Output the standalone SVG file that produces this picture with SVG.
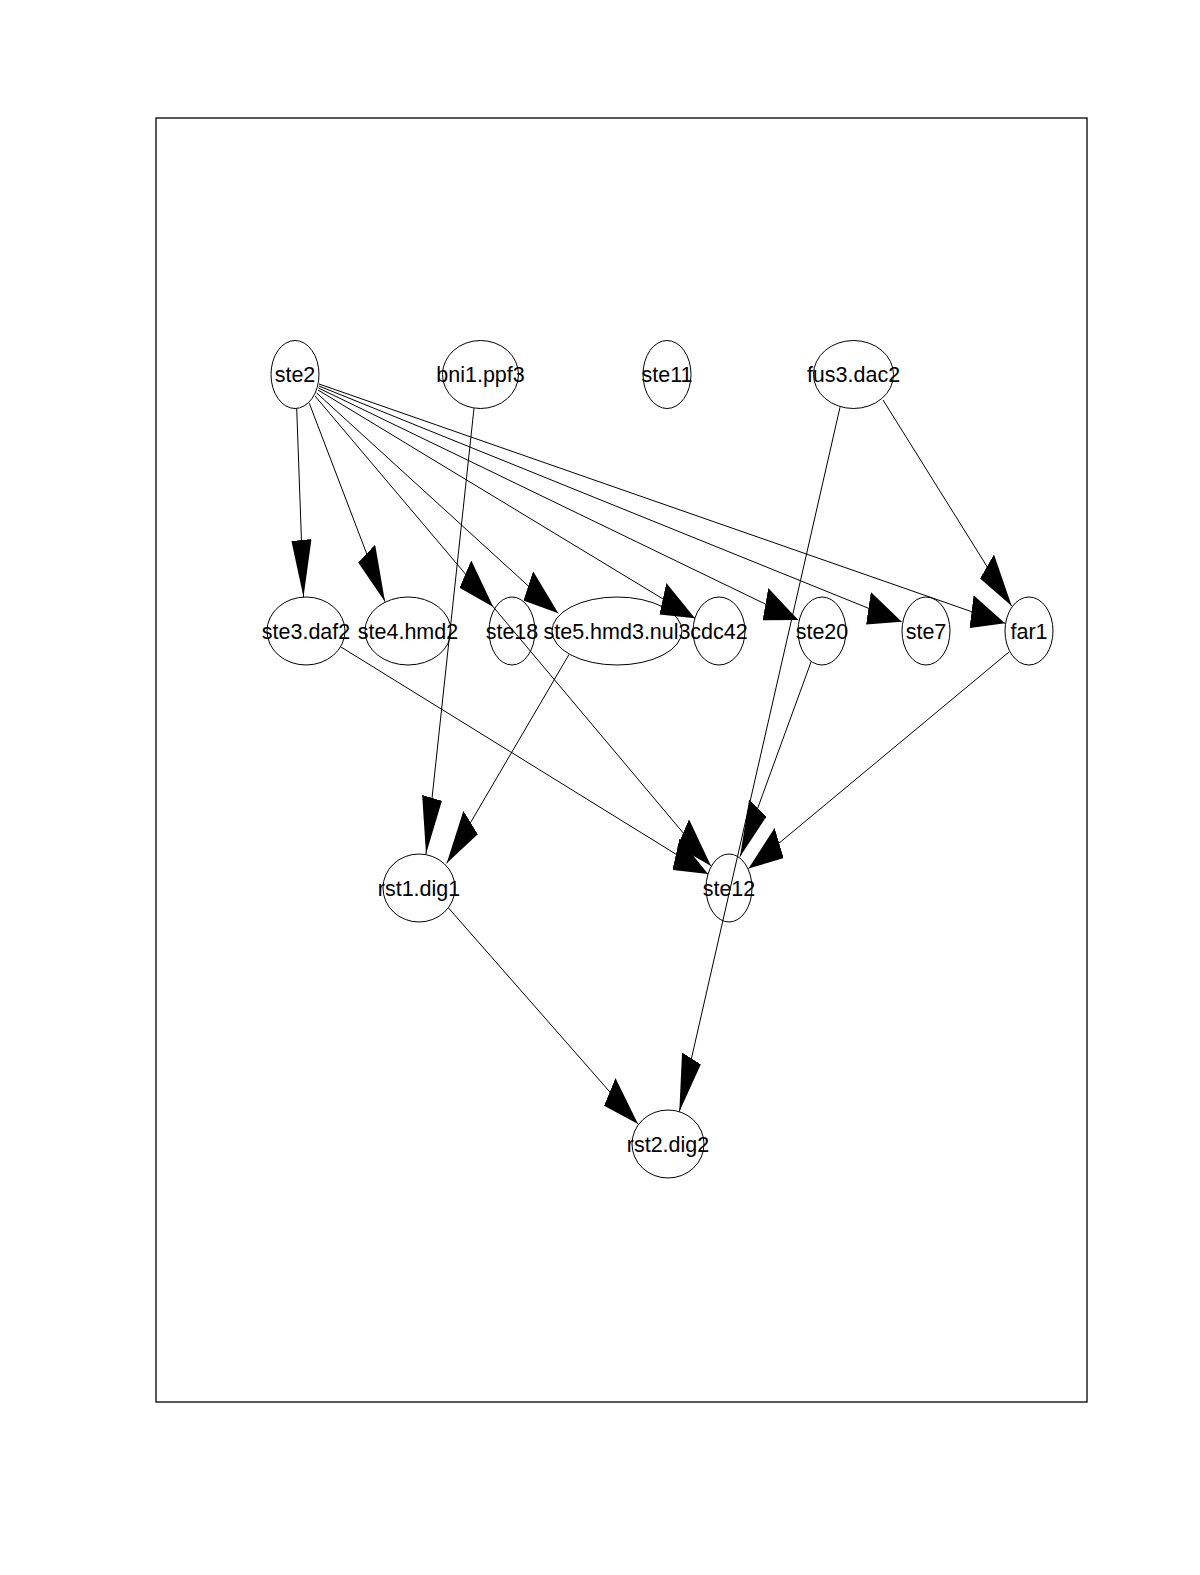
<svg xmlns="http://www.w3.org/2000/svg" width="1200" height="1575" viewBox="0 0 1200 1575">
<style>
.node ellipse{fill:none;stroke:#000;stroke-width:1}
.node text{font-family:"Liberation Sans",Arial,sans-serif;font-size:21.5px;fill:#000;text-anchor:middle}
.edge{stroke:#000;stroke-width:1;fill:none;vector-effect:non-scaling-stroke;marker-end:url(#arr)}
</style>
<defs>
<marker id="arr" markerUnits="userSpaceOnUse" viewBox="0 0 57 33.5" markerWidth="57" markerHeight="33.5" refX="57" refY="16.75" orient="auto">
<path d="M0,0 L57,16.75 L0,33.5 Z" fill="#000"/>
</marker>
</defs>
<rect x="0" y="0" width="1200" height="1575" fill="#fff"/>
<rect x="156" y="118" width="931" height="1284" fill="none" stroke="#000" stroke-width="1.3"/>
<g id="connectors" transform="scale(0.6,1)">
<line id="e_ste2_ste3.daf2" class="edge" x1="494.5" y1="408.3" x2="505.83" y2="597"/>
<line id="e_ste2_ste4.hmd2" class="edge" x1="515.5" y1="403.3" x2="641.67" y2="601.7"/>
<line id="e_ste2_ste18" class="edge" x1="525" y1="396" x2="822.17" y2="607"/>
<line id="e_ste2_ste5.hmd3.nul3" class="edge" x1="527.83" y1="393" x2="930.5" y2="613.3"/>
<line id="e_ste2_cdc42" class="edge" x1="530" y1="390" x2="1158.33" y2="618.3"/>
<line id="e_ste2_ste20" class="edge" x1="530.83" y1="388" x2="1330.5" y2="620"/>
<line id="e_ste2_ste7" class="edge" x1="531.67" y1="386" x2="1502.83" y2="621.7"/>
<line id="e_ste2_far1" class="edge" x1="531.67" y1="384" x2="1675" y2="623.3"/>
<line id="e_bni1.ppf3_rst1.dig1" class="edge" x1="790" y1="408.3" x2="710" y2="854"/>
<line id="e_fus3.dac2_rst2.dig2" class="edge" x1="1400" y1="407.3" x2="1132.17" y2="1111.7"/>
<line id="e_fus3.dac2_far1" class="edge" x1="1471.67" y1="400" x2="1686.17" y2="606"/>
<line id="e_ste3.daf2_ste12" class="edge" x1="568.33" y1="647" x2="1180" y2="874"/>
<line id="e_ste18_ste12" class="edge" x1="822.17" y1="607" x2="1185" y2="866"/>
<line id="e_ste20_ste12" class="edge" x1="1352" y1="661.5" x2="1233.33" y2="856.7"/>
<line id="e_far1_ste12" class="edge" x1="1681.67" y1="652" x2="1247.5" y2="868.5"/>
<line id="e_ste5.hmd3.nul3_rst1.dig1" class="edge" x1="948.33" y1="654.5" x2="744.5" y2="863.3"/>
<line id="e_rst1.dig1_rst2.dig2" class="edge" x1="747.5" y1="908" x2="1063.33" y2="1124"/>
</g>
<g id="ste2" class="node"><ellipse cx="295" cy="374.5" rx="24" ry="34"/><text x="295" y="382">ste2</text></g>
<g id="bni1.ppf3" class="node"><ellipse cx="480.5" cy="374.5" rx="38" ry="34"/><text x="480.5" y="382">bni1.ppf3</text></g>
<g id="ste11" class="node"><ellipse cx="667" cy="374.5" rx="24" ry="34"/><text x="667" y="382">ste11</text></g>
<g id="fus3.dac2" class="node"><ellipse cx="853.5" cy="374.5" rx="40" ry="34"/><text x="853.5" y="382">fus3.dac2</text></g>
<g id="ste3.daf2" class="node"><ellipse cx="306" cy="631" rx="39" ry="34"/><text x="306" y="638.5">ste3.daf2</text></g>
<g id="ste4.hmd2" class="node"><ellipse cx="408" cy="631" rx="43" ry="34"/><text x="408" y="638.5">ste4.hmd2</text></g>
<g id="ste18" class="node"><ellipse cx="512" cy="631" rx="23" ry="34"/><text x="512" y="638.5">ste18</text></g>
<g id="ste5.hmd3.nul3" class="node"><ellipse cx="617" cy="631" rx="65" ry="34"/><text x="617" y="638.5">ste5.hmd3.nul3</text></g>
<g id="cdc42" class="node"><ellipse cx="719" cy="631" rx="26" ry="34"/><text x="719" y="638.5">cdc42</text></g>
<g id="ste20" class="node"><ellipse cx="822" cy="631" rx="24" ry="34"/><text x="822" y="638.5">ste20</text></g>
<g id="ste7" class="node"><ellipse cx="926" cy="631" rx="24" ry="34"/><text x="926" y="638.5">ste7</text></g>
<g id="far1" class="node"><ellipse cx="1029" cy="631" rx="24" ry="34"/><text x="1029" y="638.5">far1</text></g>
<g id="rst1.dig1" class="node"><ellipse cx="419" cy="888" rx="36" ry="34"/><text x="419" y="895.5">rst1.dig1</text></g>
<g id="ste12" class="node"><ellipse cx="729" cy="888" rx="23" ry="34"/><text x="729" y="895.5">ste12</text></g>
<g id="rst2.dig2" class="node"><ellipse cx="668" cy="1144" rx="36" ry="34"/><text x="668" y="1151.5">rst2.dig2</text></g>
</svg>
